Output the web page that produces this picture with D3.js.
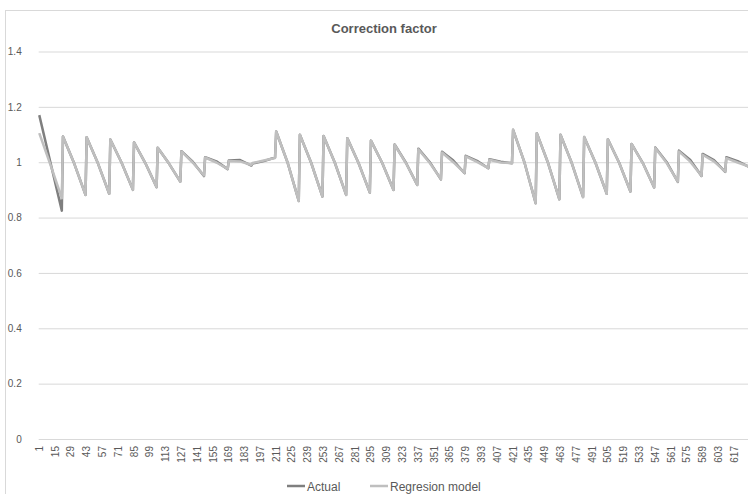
<!DOCTYPE html>
<html><head><meta charset="utf-8">
<script src="https://cdn.jsdelivr.net/npm/d3@7"></script>
<style>body{margin:0;background:#fff}svg{display:block}text{font-family:"Liberation Sans",Arial,sans-serif}</style>
</head><body><svg id="c" width="748" height="494"></svg>
<script>
// ---- data ----
const title = "Correction factor";
const categoryCount = 630;
const tickLabels = [1,15,29,43,57,71,85,99,113,127,141,155,169,183,197,211,225,239,253,267,281,295,309,323,337,351,365,379,393,407,421,435,449,463,477,491,505,519,533,547,561,575,589,603,617];
const yTicks = [0,0.2,0.4,0.6,0.8,1,1.2,1.4];
// category index of each read vertex (peak, middle, end of every cycle)
const vertexIdx = [
  1,11,21, 22,32,42, 43,53,63, 64,74,84, 85,95,105, 106,116,126, 127,137,147, 148,158,168, 169,179,189, 190,200,210,
  211,221,231, 232,242,252, 253,263,273, 274,284,294, 295,305,315, 316,326,336, 337,347,357, 358,368,378, 379,389,399, 400,410,420,
  421,431,441, 442,452,462, 463,473,483, 484,494,504, 505,515,525, 526,536,546, 547,557,567, 568,578,588, 589,599,609, 610,620,630
];
const actual = [
  1.170,0.997,0.825, 1.093,0.995,0.882, 1.090,0.996,0.886, 1.082,0.998,0.900, 1.072,0.997,0.910, 1.052,0.995,0.930, 1.040,1.002,0.950, 1.018,1.003,0.975, 1.006,1.008,0.988, 0.995,1.004,1.017,
  1.111,1.000,0.860, 1.099,0.998,0.876, 1.095,0.998,0.882, 1.087,0.997,0.890, 1.078,0.997,0.900, 1.064,0.998,0.918, 1.049,1.001,0.938, 1.038,1.006,0.960, 1.023,1.005,0.978, 1.011,1.002,0.996,
  1.117,1.000,0.852, 1.105,0.997,0.866, 1.099,0.997,0.874, 1.091,0.998,0.886, 1.083,0.998,0.894, 1.066,0.997,0.909, 1.053,1.001,0.929, 1.042,1.008,0.950, 1.030,1.008,0.965, 1.018,1.004,0.983
];
const model = [
  1.105,0.990,0.870, 1.093,0.995,0.882, 1.090,0.996,0.886, 1.082,0.998,0.900, 1.072,0.997,0.910, 1.052,0.995,0.930, 1.039,0.999,0.952, 1.017,0.999,0.976, 1.004,1.003,0.990, 0.997,1.006,1.015,
  1.111,1.000,0.860, 1.099,0.998,0.876, 1.095,0.998,0.882, 1.087,0.997,0.890, 1.078,0.997,0.900, 1.063,0.997,0.918, 1.047,0.998,0.939, 1.035,1.000,0.961, 1.021,1.001,0.979, 1.009,0.999,0.997,
  1.117,1.000,0.852, 1.105,0.997,0.866, 1.099,0.997,0.874, 1.091,0.998,0.886, 1.083,0.998,0.894, 1.066,0.996,0.909, 1.051,0.998,0.930, 1.039,1.002,0.951, 1.027,1.003,0.966, 1.015,0.999,0.985
];
const seriesNames = ["Actual","Regresion model"];
const seriesColors = ["#7f7f7f","#bfbfbf"];

// ---- drawing ----
const svg = d3.select("#c");
const categories = d3.range(1, categoryCount + 1);
const x = d3.scaleBand().domain(categories).range([38.7, 38.7 + categoryCount * 1.1282]).padding(0);
const cx = i => x(i) + x.bandwidth() / 2;
const y = d3.scaleLinear().domain([0, 1.4]).range([439, 51.5]);

// chart border
svg.append("rect").attr("x",5.5).attr("y",10.5).attr("width",800).attr("height",600)
  .attr("fill","none").attr("stroke","#d9d9d9");

// title
svg.append("text").attr("x",384).attr("y",33).attr("text-anchor","middle")
  .attr("font-size",13).attr("font-weight","bold").attr("fill","#595959").text(title);

// gridlines + y labels
const yAxis = d3.axisLeft(y).tickValues(yTicks).tickSize(-(760 - 38.7)).tickPadding(17)
  .tickFormat(d => String(d));
const gy = svg.append("g").attr("transform","translate(38.7,0)").call(yAxis);
gy.select(".domain").remove();
gy.selectAll(".tick line").attr("stroke","#d9d9d9").attr("stroke-width",1);
gy.selectAll(".tick text").attr("fill","#595959").attr("font-size",10);

// x labels
const xAxis = d3.axisBottom(x).tickValues(tickLabels).tickSize(0).tickPadding(0);
const gx = svg.append("g").attr("transform","translate(0,439)").call(xAxis);
gx.select(".domain").remove();
gx.selectAll(".tick text").attr("fill","#595959").attr("font-size",10)
  .attr("text-anchor","end").attr("dy",null).attr("y",0)
  .attr("transform","translate(3.5,7) rotate(-90)");

// lines
const pts = vals => vertexIdx.map((c, k) => [c, vals[k]]);
const line = d3.line().x(d => cx(d[0])).y(d => y(d[1]));
[actual, model].forEach((vals, s) => {
  svg.append("path").datum(pts(vals)).attr("d", line).attr("fill","none")
    .attr("stroke", seriesColors[s]).attr("stroke-width",2.5).attr("stroke-linejoin","round");
});

// legend
const legX = [287, 370];
seriesNames.forEach((n, s) => {
  const g = svg.append("g").attr("transform", `translate(${legX[s]},486)`);
  g.append("line").attr("x1",0).attr("x2",18).attr("y1",0).attr("y2",0)
    .attr("stroke", seriesColors[s]).attr("stroke-width",2.5);
  g.append("text").attr("x",20).attr("y",4.5).attr("font-size",12).attr("fill","#595959").text(n);
});
</script></body></html>
